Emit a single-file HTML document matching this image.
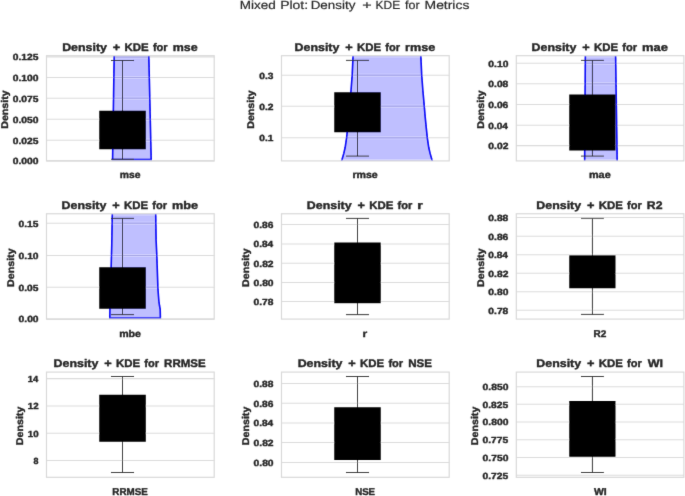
<!DOCTYPE html>
<html><head><meta charset="utf-8"><title>Mixed Plot: Density + KDE for Metrics</title>
<style>
html,body{margin:0;padding:0;background:#fff;}
body{width:685px;height:496px;overflow:hidden;font-family:"Liberation Sans",sans-serif;}
svg{display:block;}
text{font-family:"Liberation Sans",sans-serif;fill:#262626;text-rendering:geometricPrecision;}
.b{font-weight:bold;stroke:#262626;stroke-width:0.4px;stroke-linejoin:round;}
.s{fill:#2a2a2a;stroke:#2a2a2a;stroke-width:0.2px;}
</style></head><body>
<svg width="685" height="496" viewBox="0 0 685 496">
<defs><filter id="n" x="0" y="0" width="685" height="496" filterUnits="userSpaceOnUse"><feConvolveMatrix order="3" kernelMatrix="0.00813 0.07390 0.00813 0.07390 0.67186 0.07390 0.00813 0.07390 0.00813" edgeMode="none" preserveAlpha="false"/></filter></defs>
<rect x="0" y="0" width="685" height="496" fill="#ffffff"/>
<g filter="url(#n)">
<text x="239.69" y="9.00" font-size="11.7" class="s" textLength="35.98" lengthAdjust="spacingAndGlyphs" transform="rotate(0.02 239.69 9.00)">Mixed</text>
<text x="280.15" y="9.00" font-size="11.7" class="s" textLength="27.97" lengthAdjust="spacingAndGlyphs" transform="rotate(0.02 280.15 9.00)">Plot:</text>
<text x="310.70" y="9.00" font-size="11.7" class="s" textLength="44.73" lengthAdjust="spacingAndGlyphs" transform="rotate(0.02 310.70 9.00)">Density</text>
<text x="362.22" y="9.00" font-size="11.7" class="s" textLength="9.38" lengthAdjust="spacingAndGlyphs" transform="rotate(0.02 362.22 9.00)">+</text>
<text x="375.62" y="9.00" font-size="11.7" class="s" textLength="24.60" lengthAdjust="spacingAndGlyphs" transform="rotate(0.02 375.62 9.00)">KDE</text>
<text x="405.02" y="9.00" font-size="11.7" class="s" textLength="14.53" lengthAdjust="spacingAndGlyphs" transform="rotate(0.02 405.02 9.00)">for</text>
<text x="424.56" y="9.00" font-size="11.7" class="s" textLength="44.84" lengthAdjust="spacingAndGlyphs" transform="rotate(0.02 424.56 9.00)">Metrics</text>
<g id="ax0">
<clipPath id="cp0"><rect x="46.5" y="55.7" width="167.70" height="105.20"/></clipPath>
<line x1="46.5" x2="214.2" y1="56.9" y2="56.9" stroke="#dcdcdc" stroke-width="1.1"/>
<line x1="46.5" x2="214.2" y1="77.5" y2="77.5" stroke="#dcdcdc" stroke-width="1.1"/>
<line x1="46.5" x2="214.2" y1="98.25" y2="98.25" stroke="#dcdcdc" stroke-width="1.1"/>
<line x1="46.5" x2="214.2" y1="119.25" y2="119.25" stroke="#dcdcdc" stroke-width="1.1"/>
<line x1="46.5" x2="214.2" y1="140.25" y2="140.25" stroke="#dcdcdc" stroke-width="1.1"/>
<line x1="46.5" x2="214.2" y1="160.9" y2="160.9" stroke="#dcdcdc" stroke-width="1.1"/>
<g clip-path="url(#cp0)"><path d="M114.2,55 L112.6,159.6 L151.2,159.6 L148.8,55 Z" fill="#0000ff" fill-opacity="0.25" stroke="none"/><path d="M114.2,55 L112.6,159.6 L151.2,159.6 L148.8,55" fill="none" stroke="#0808f8" stroke-width="1.6"/></g>
<path d="M122.5,60.5 V159.3 M111.0,60.5 H134.0 M111.0,159.3 H134.0" stroke="#2b2b2b" stroke-width="0.9" fill="none"/>
<rect x="99.25" y="110.75" width="46.55" height="38.50" fill="#000"/>
<rect x="46.5" y="55.7" width="167.70" height="105.20" fill="none" stroke="#d9d9d9" stroke-width="1.2"/>
<text x="12.79" y="60.00" font-size="8.9" class="b" textLength="25.65" lengthAdjust="spacingAndGlyphs" transform="rotate(0.02 12.79 60.00)">0.125</text>
<text x="12.79" y="81.00" font-size="8.9" class="b" textLength="25.79" lengthAdjust="spacingAndGlyphs" transform="rotate(0.02 12.79 81.00)">0.100</text>
<text x="12.79" y="102.00" font-size="8.9" class="b" textLength="25.65" lengthAdjust="spacingAndGlyphs" transform="rotate(0.02 12.79 102.00)">0.075</text>
<text x="12.79" y="123.00" font-size="8.9" class="b" textLength="25.79" lengthAdjust="spacingAndGlyphs" transform="rotate(0.02 12.79 123.00)">0.050</text>
<text x="12.79" y="144.00" font-size="8.9" class="b" textLength="25.65" lengthAdjust="spacingAndGlyphs" transform="rotate(0.02 12.79 144.00)">0.025</text>
<text x="12.79" y="164.00" font-size="8.9" class="b" textLength="25.79" lengthAdjust="spacingAndGlyphs" transform="rotate(0.02 12.79 164.00)">0.000</text>
<text x="-0.51" y="0" font-size="9.8" class="b" textLength="38.47" lengthAdjust="spacingAndGlyphs" transform="translate(8.00,128.25) rotate(-89.98)">Density</text>
<text x="62.17" y="51.00" font-size="11.0" class="b" textLength="44.80" lengthAdjust="spacingAndGlyphs" transform="rotate(0.02 62.17 51.00)">Density</text>
<text x="112.76" y="51.00" font-size="11.0" class="b" textLength="7.45" lengthAdjust="spacingAndGlyphs" transform="rotate(0.02 112.76 51.00)">+</text>
<text x="124.54" y="51.00" font-size="11.0" class="b" textLength="24.11" lengthAdjust="spacingAndGlyphs" transform="rotate(0.02 124.54 51.00)">KDE</text>
<text x="152.91" y="51.00" font-size="11.0" class="b" textLength="14.76" lengthAdjust="spacingAndGlyphs" transform="rotate(0.02 152.91 51.00)">for</text>
<text x="172.68" y="51.00" font-size="11.0" class="b" textLength="24.95" lengthAdjust="spacingAndGlyphs" transform="rotate(0.02 172.68 51.00)">mse</text>
<text x="119.72" y="178.00" font-size="9.8" class="b" textLength="20.74" lengthAdjust="spacingAndGlyphs" transform="rotate(0.02 119.72 178.00)">mse</text>
</g>
<g id="ax1">
<clipPath id="cp1"><rect x="281.5" y="55.7" width="167.70" height="105.20"/></clipPath>
<line x1="281.5" x2="449.2" y1="75.25" y2="75.25" stroke="#dcdcdc" stroke-width="1.1"/>
<line x1="281.5" x2="449.2" y1="106.25" y2="106.25" stroke="#dcdcdc" stroke-width="1.1"/>
<line x1="281.5" x2="449.2" y1="137.75" y2="137.75" stroke="#dcdcdc" stroke-width="1.1"/>
<g clip-path="url(#cp1)"><path d="M353.1,55 L352.2,75 L351.0,90.7 L349.6,106.4 L348.7,117.1 L347.5,129.2 L346.6,137.65 L345.2,147.3 L343.8,153.4 L341.9,160 L341.2,162 L432.7,162 L432.0,160 L430.1,153.4 L428.7,147.3 L427.3,137.65 L426.4,129.2 L425.2,117.1 L424.3,106.4 L422.9,90.7 L421.7,75 L420.8,55 Z" fill="#0000ff" fill-opacity="0.25" stroke="none"/><path d="M353.1,55 L352.2,75 L351.0,90.7 L349.6,106.4 L348.7,117.1 L347.5,129.2 L346.6,137.65 L345.2,147.3 L343.8,153.4 L341.9,160 L341.2,162 M420.8,55 L421.7,75 L422.9,90.7 L424.3,106.4 L425.2,117.1 L426.4,129.2 L427.3,137.65 L428.7,147.3 L430.1,153.4 L432.0,160 L432.7,162" fill="none" stroke="#0808f8" stroke-width="1.6"/></g>
<path d="M357.5,60.4 V156.1 M346.0,60.4 H369.0 M346.0,156.1 H369.0" stroke="#2b2b2b" stroke-width="0.9" fill="none"/>
<rect x="334.25" y="92.25" width="46.50" height="40.00" fill="#000"/>
<rect x="281.5" y="55.7" width="167.70" height="105.20" fill="none" stroke="#d9d9d9" stroke-width="1.2"/>
<text x="259.39" y="79.00" font-size="8.9" class="b" textLength="14.13" lengthAdjust="spacingAndGlyphs" transform="rotate(0.02 259.39 79.00)">0.3</text>
<text x="259.39" y="110.00" font-size="8.9" class="b" textLength="14.17" lengthAdjust="spacingAndGlyphs" transform="rotate(0.02 259.39 110.00)">0.2</text>
<text x="259.39" y="141.00" font-size="8.9" class="b" textLength="14.04" lengthAdjust="spacingAndGlyphs" transform="rotate(0.02 259.39 141.00)">0.1</text>
<text x="-0.51" y="0" font-size="9.8" class="b" textLength="38.47" lengthAdjust="spacingAndGlyphs" transform="translate(254.00,128.25) rotate(-89.98)">Density</text>
<text x="294.62" y="51.00" font-size="11.0" class="b" textLength="44.80" lengthAdjust="spacingAndGlyphs" transform="rotate(0.02 294.62 51.00)">Density</text>
<text x="345.21" y="51.00" font-size="11.0" class="b" textLength="7.45" lengthAdjust="spacingAndGlyphs" transform="rotate(0.02 345.21 51.00)">+</text>
<text x="356.99" y="51.00" font-size="11.0" class="b" textLength="24.11" lengthAdjust="spacingAndGlyphs" transform="rotate(0.02 356.99 51.00)">KDE</text>
<text x="385.36" y="51.00" font-size="11.0" class="b" textLength="14.76" lengthAdjust="spacingAndGlyphs" transform="rotate(0.02 385.36 51.00)">for</text>
<text x="405.12" y="51.00" font-size="11.0" class="b" textLength="30.16" lengthAdjust="spacingAndGlyphs" transform="rotate(0.02 405.12 51.00)">rmse</text>
<text x="352.40" y="178.00" font-size="9.8" class="b" textLength="25.36" lengthAdjust="spacingAndGlyphs" transform="rotate(0.02 352.40 178.00)">rmse</text>
</g>
<g id="ax2">
<clipPath id="cp2"><rect x="516.3" y="55.7" width="167.60" height="105.20"/></clipPath>
<line x1="516.3" x2="683.9" y1="63.25" y2="63.25" stroke="#dcdcdc" stroke-width="1.1"/>
<line x1="516.3" x2="683.9" y1="83.75" y2="83.75" stroke="#dcdcdc" stroke-width="1.1"/>
<line x1="516.3" x2="683.9" y1="104.5" y2="104.5" stroke="#dcdcdc" stroke-width="1.1"/>
<line x1="516.3" x2="683.9" y1="125.25" y2="125.25" stroke="#dcdcdc" stroke-width="1.1"/>
<line x1="516.3" x2="683.9" y1="145.6" y2="145.6" stroke="#dcdcdc" stroke-width="1.1"/>
<g clip-path="url(#cp2)"><path d="M585.35,55 L584.65,162 L617.2,162 L615.6,55 Z" fill="#0000ff" fill-opacity="0.25" stroke="none"/><path d="M585.35,55 L584.65,162 M617.2,162 L615.6,55" fill="none" stroke="#0808f8" stroke-width="1.6"/></g>
<path d="M592.45,60.4 V156.1 M581.0,60.4 H603.9 M581.0,156.1 H603.9" stroke="#2b2b2b" stroke-width="0.9" fill="none"/>
<rect x="569.25" y="94.5" width="46.25" height="56.00" fill="#000"/>
<rect x="516.3" y="55.7" width="167.60" height="105.20" fill="none" stroke="#d9d9d9" stroke-width="1.2"/>
<text x="488.39" y="67.00" font-size="8.9" class="b" textLength="19.99" lengthAdjust="spacingAndGlyphs" transform="rotate(0.02 488.39 67.00)">0.10</text>
<text x="488.39" y="87.00" font-size="8.9" class="b" textLength="19.88" lengthAdjust="spacingAndGlyphs" transform="rotate(0.02 488.39 87.00)">0.08</text>
<text x="488.39" y="108.00" font-size="8.9" class="b" textLength="19.93" lengthAdjust="spacingAndGlyphs" transform="rotate(0.02 488.39 108.00)">0.06</text>
<text x="488.39" y="129.00" font-size="8.9" class="b" textLength="19.61" lengthAdjust="spacingAndGlyphs" transform="rotate(0.02 488.39 129.00)">0.04</text>
<text x="488.39" y="149.00" font-size="8.9" class="b" textLength="19.98" lengthAdjust="spacingAndGlyphs" transform="rotate(0.02 488.39 149.00)">0.02</text>
<text x="-0.51" y="0" font-size="9.8" class="b" textLength="38.47" lengthAdjust="spacingAndGlyphs" transform="translate(484.00,128.25) rotate(-89.98)">Density</text>
<text x="531.57" y="51.00" font-size="11.0" class="b" textLength="44.80" lengthAdjust="spacingAndGlyphs" transform="rotate(0.02 531.57 51.00)">Density</text>
<text x="582.16" y="51.00" font-size="11.0" class="b" textLength="7.45" lengthAdjust="spacingAndGlyphs" transform="rotate(0.02 582.16 51.00)">+</text>
<text x="593.94" y="51.00" font-size="11.0" class="b" textLength="24.11" lengthAdjust="spacingAndGlyphs" transform="rotate(0.02 593.94 51.00)">KDE</text>
<text x="622.31" y="51.00" font-size="11.0" class="b" textLength="14.76" lengthAdjust="spacingAndGlyphs" transform="rotate(0.02 622.31 51.00)">for</text>
<text x="642.05" y="51.00" font-size="11.0" class="b" textLength="25.90" lengthAdjust="spacingAndGlyphs" transform="rotate(0.02 642.05 51.00)">mae</text>
<text x="588.99" y="178.00" font-size="9.8" class="b" textLength="21.68" lengthAdjust="spacingAndGlyphs" transform="rotate(0.02 588.99 178.00)">mae</text>
</g>
<g id="ax3">
<clipPath id="cp3"><rect x="46.5" y="213.75" width="167.70" height="105.35"/></clipPath>
<line x1="46.5" x2="214.2" y1="223.25" y2="223.25" stroke="#dcdcdc" stroke-width="1.1"/>
<line x1="46.5" x2="214.2" y1="255.5" y2="255.5" stroke="#dcdcdc" stroke-width="1.1"/>
<line x1="46.5" x2="214.2" y1="287.25" y2="287.25" stroke="#dcdcdc" stroke-width="1.1"/>
<line x1="46.5" x2="214.2" y1="319.1" y2="319.1" stroke="#dcdcdc" stroke-width="1.1"/>
<g clip-path="url(#cp3)"><path d="M112.3,213 L111.75,245 L110.8,280 L109.9,309 L109.8,318 L160.4,318 L160.2,309.4 L159.5,305.5 L158.9,301.3 L158.4,295 L157.9,287.6 L157.3,270 L156.8,255.3 L156.1,240 L155.7,213 Z" fill="#0000ff" fill-opacity="0.25" stroke="none"/><path d="M112.3,213 L111.75,245 L110.8,280 L109.9,309 L109.8,318 L160.4,318 L160.2,309.4 L159.5,305.5 L158.9,301.3 L158.4,295 L157.9,287.6 L157.3,270 L156.8,255.3 L156.1,240 L155.7,213" fill="none" stroke="#0808f8" stroke-width="1.6"/></g>
<path d="M122.5,218.4 V314.6 M111.0,218.4 H134.0 M111.0,314.6 H134.0" stroke="#2b2b2b" stroke-width="0.9" fill="none"/>
<rect x="99.25" y="267.25" width="46.55" height="41.50" fill="#000"/>
<rect x="46.5" y="213.75" width="167.70" height="105.35" fill="none" stroke="#d9d9d9" stroke-width="1.2"/>
<text x="18.59" y="227.00" font-size="8.9" class="b" textLength="19.85" lengthAdjust="spacingAndGlyphs" transform="rotate(0.02 18.59 227.00)">0.15</text>
<text x="18.59" y="259.00" font-size="8.9" class="b" textLength="19.99" lengthAdjust="spacingAndGlyphs" transform="rotate(0.02 18.59 259.00)">0.10</text>
<text x="18.59" y="291.00" font-size="8.9" class="b" textLength="19.85" lengthAdjust="spacingAndGlyphs" transform="rotate(0.02 18.59 291.00)">0.05</text>
<text x="18.59" y="322.00" font-size="8.9" class="b" textLength="19.99" lengthAdjust="spacingAndGlyphs" transform="rotate(0.02 18.59 322.00)">0.00</text>
<text x="-0.51" y="0" font-size="9.8" class="b" textLength="38.47" lengthAdjust="spacingAndGlyphs" transform="translate(14.00,286.38) rotate(-89.98)">Density</text>
<text x="61.57" y="209.00" font-size="11.0" class="b" textLength="44.80" lengthAdjust="spacingAndGlyphs" transform="rotate(0.02 61.57 209.00)">Density</text>
<text x="112.16" y="209.00" font-size="11.0" class="b" textLength="7.45" lengthAdjust="spacingAndGlyphs" transform="rotate(0.02 112.16 209.00)">+</text>
<text x="123.94" y="209.00" font-size="11.0" class="b" textLength="24.11" lengthAdjust="spacingAndGlyphs" transform="rotate(0.02 123.94 209.00)">KDE</text>
<text x="152.31" y="209.00" font-size="11.0" class="b" textLength="14.76" lengthAdjust="spacingAndGlyphs" transform="rotate(0.02 152.31 209.00)">for</text>
<text x="172.06" y="209.00" font-size="11.0" class="b" textLength="26.07" lengthAdjust="spacingAndGlyphs" transform="rotate(0.02 172.06 209.00)">mbe</text>
<text x="119.15" y="337.00" font-size="9.8" class="b" textLength="21.86" lengthAdjust="spacingAndGlyphs" transform="rotate(0.02 119.15 337.00)">mbe</text>
</g>
<g id="ax4">
<clipPath id="cp4"><rect x="281.5" y="213.75" width="167.70" height="105.35"/></clipPath>
<line x1="281.5" x2="449.2" y1="224.5" y2="224.5" stroke="#dcdcdc" stroke-width="1.1"/>
<line x1="281.5" x2="449.2" y1="244" y2="244" stroke="#dcdcdc" stroke-width="1.1"/>
<line x1="281.5" x2="449.2" y1="263.25" y2="263.25" stroke="#dcdcdc" stroke-width="1.1"/>
<line x1="281.5" x2="449.2" y1="282.5" y2="282.5" stroke="#dcdcdc" stroke-width="1.1"/>
<line x1="281.5" x2="449.2" y1="301.5" y2="301.5" stroke="#dcdcdc" stroke-width="1.1"/>
<path d="M357.5,218.4 V314.6 M346.0,218.4 H369.0 M346.0,314.6 H369.0" stroke="#2b2b2b" stroke-width="0.9" fill="none"/>
<rect x="334.25" y="242.5" width="46.50" height="60.70" fill="#000"/>
<rect x="281.5" y="213.75" width="167.70" height="105.35" fill="none" stroke="#d9d9d9" stroke-width="1.2"/>
<text x="253.59" y="228.00" font-size="8.9" class="b" textLength="19.93" lengthAdjust="spacingAndGlyphs" transform="rotate(0.02 253.59 228.00)">0.86</text>
<text x="253.59" y="247.00" font-size="8.9" class="b" textLength="19.61" lengthAdjust="spacingAndGlyphs" transform="rotate(0.02 253.59 247.00)">0.84</text>
<text x="253.59" y="267.00" font-size="8.9" class="b" textLength="19.98" lengthAdjust="spacingAndGlyphs" transform="rotate(0.02 253.59 267.00)">0.82</text>
<text x="253.59" y="286.00" font-size="8.9" class="b" textLength="19.99" lengthAdjust="spacingAndGlyphs" transform="rotate(0.02 253.59 286.00)">0.80</text>
<text x="253.59" y="305.00" font-size="8.9" class="b" textLength="19.88" lengthAdjust="spacingAndGlyphs" transform="rotate(0.02 253.59 305.00)">0.78</text>
<text x="-0.51" y="0" font-size="9.8" class="b" textLength="38.47" lengthAdjust="spacingAndGlyphs" transform="translate(249.00,286.38) rotate(-89.98)">Density</text>
<text x="306.87" y="209.00" font-size="11.0" class="b" textLength="44.80" lengthAdjust="spacingAndGlyphs" transform="rotate(0.02 306.87 209.00)">Density</text>
<text x="357.46" y="209.00" font-size="11.0" class="b" textLength="7.45" lengthAdjust="spacingAndGlyphs" transform="rotate(0.02 357.46 209.00)">+</text>
<text x="369.24" y="209.00" font-size="11.0" class="b" textLength="24.11" lengthAdjust="spacingAndGlyphs" transform="rotate(0.02 369.24 209.00)">KDE</text>
<text x="397.61" y="209.00" font-size="11.0" class="b" textLength="14.76" lengthAdjust="spacingAndGlyphs" transform="rotate(0.02 397.61 209.00)">for</text>
<text x="417.26" y="209.00" font-size="11.0" class="b" textLength="5.56" lengthAdjust="spacingAndGlyphs" transform="rotate(0.02 417.26 209.00)">r</text>
<text x="362.61" y="337.00" font-size="9.8" class="b" textLength="4.67" lengthAdjust="spacingAndGlyphs" transform="rotate(0.02 362.61 337.00)">r</text>
</g>
<g id="ax5">
<clipPath id="cp5"><rect x="516.3" y="213.75" width="167.60" height="105.35"/></clipPath>
<line x1="516.3" x2="683.9" y1="217.5" y2="217.5" stroke="#dcdcdc" stroke-width="1.1"/>
<line x1="516.3" x2="683.9" y1="236.25" y2="236.25" stroke="#dcdcdc" stroke-width="1.1"/>
<line x1="516.3" x2="683.9" y1="254.75" y2="254.75" stroke="#dcdcdc" stroke-width="1.1"/>
<line x1="516.3" x2="683.9" y1="273.25" y2="273.25" stroke="#dcdcdc" stroke-width="1.1"/>
<line x1="516.3" x2="683.9" y1="291.75" y2="291.75" stroke="#dcdcdc" stroke-width="1.1"/>
<line x1="516.3" x2="683.9" y1="310.25" y2="310.25" stroke="#dcdcdc" stroke-width="1.1"/>
<path d="M592.45,218.4 V314.4 M581.0,218.4 H603.9 M581.0,314.4 H603.9" stroke="#2b2b2b" stroke-width="0.9" fill="none"/>
<rect x="569.25" y="255.25" width="46.25" height="33.00" fill="#000"/>
<rect x="516.3" y="213.75" width="167.60" height="105.35" fill="none" stroke="#d9d9d9" stroke-width="1.2"/>
<text x="488.39" y="221.00" font-size="8.9" class="b" textLength="19.88" lengthAdjust="spacingAndGlyphs" transform="rotate(0.02 488.39 221.00)">0.88</text>
<text x="488.39" y="240.00" font-size="8.9" class="b" textLength="19.93" lengthAdjust="spacingAndGlyphs" transform="rotate(0.02 488.39 240.00)">0.86</text>
<text x="488.39" y="258.00" font-size="8.9" class="b" textLength="19.61" lengthAdjust="spacingAndGlyphs" transform="rotate(0.02 488.39 258.00)">0.84</text>
<text x="488.39" y="277.00" font-size="8.9" class="b" textLength="19.98" lengthAdjust="spacingAndGlyphs" transform="rotate(0.02 488.39 277.00)">0.82</text>
<text x="488.39" y="295.00" font-size="8.9" class="b" textLength="19.99" lengthAdjust="spacingAndGlyphs" transform="rotate(0.02 488.39 295.00)">0.80</text>
<text x="488.39" y="314.00" font-size="8.9" class="b" textLength="19.88" lengthAdjust="spacingAndGlyphs" transform="rotate(0.02 488.39 314.00)">0.78</text>
<text x="-0.51" y="0" font-size="9.8" class="b" textLength="38.47" lengthAdjust="spacingAndGlyphs" transform="translate(484.00,286.38) rotate(-89.98)">Density</text>
<text x="536.37" y="209.00" font-size="11.0" class="b" textLength="44.80" lengthAdjust="spacingAndGlyphs" transform="rotate(0.02 536.37 209.00)">Density</text>
<text x="586.96" y="209.00" font-size="11.0" class="b" textLength="7.45" lengthAdjust="spacingAndGlyphs" transform="rotate(0.02 586.96 209.00)">+</text>
<text x="598.74" y="209.00" font-size="11.0" class="b" textLength="24.11" lengthAdjust="spacingAndGlyphs" transform="rotate(0.02 598.74 209.00)">KDE</text>
<text x="627.11" y="209.00" font-size="11.0" class="b" textLength="14.76" lengthAdjust="spacingAndGlyphs" transform="rotate(0.02 627.11 209.00)">for</text>
<text x="646.88" y="209.00" font-size="11.0" class="b" textLength="15.61" lengthAdjust="spacingAndGlyphs" transform="rotate(0.02 646.88 209.00)">R2</text>
<text x="593.48" y="337.00" font-size="9.8" class="b" textLength="12.77" lengthAdjust="spacingAndGlyphs" transform="rotate(0.02 593.48 337.00)">R2</text>
</g>
<g id="ax6">
<clipPath id="cp6"><rect x="46.5" y="372.1" width="167.70" height="105.20"/></clipPath>
<line x1="46.5" x2="214.2" y1="378.6" y2="378.6" stroke="#dcdcdc" stroke-width="1.1"/>
<line x1="46.5" x2="214.2" y1="406" y2="406" stroke="#dcdcdc" stroke-width="1.1"/>
<line x1="46.5" x2="214.2" y1="433.25" y2="433.25" stroke="#dcdcdc" stroke-width="1.1"/>
<line x1="46.5" x2="214.2" y1="460.5" y2="460.5" stroke="#dcdcdc" stroke-width="1.1"/>
<path d="M122.5,376.5 V472.5 M111.0,376.5 H134.0 M111.0,472.5 H134.0" stroke="#2b2b2b" stroke-width="0.9" fill="none"/>
<rect x="99.25" y="394.75" width="46.55" height="47.00" fill="#000"/>
<rect x="46.5" y="372.1" width="167.70" height="105.20" fill="none" stroke="#d9d9d9" stroke-width="1.2"/>
<text x="27.76" y="382.00" font-size="8.9" class="b" textLength="10.44" lengthAdjust="spacingAndGlyphs" transform="rotate(0.02 27.76 382.00)">14</text>
<text x="27.74" y="409.00" font-size="8.9" class="b" textLength="10.80" lengthAdjust="spacingAndGlyphs" transform="rotate(0.02 27.74 409.00)">12</text>
<text x="27.74" y="437.00" font-size="8.9" class="b" textLength="10.81" lengthAdjust="spacingAndGlyphs" transform="rotate(0.02 27.74 437.00)">10</text>
<text x="33.47" y="464.00" font-size="8.9" class="b" textLength="4.95" lengthAdjust="spacingAndGlyphs" transform="rotate(0.02 33.47 464.00)">8</text>
<text x="-0.51" y="0" font-size="9.8" class="b" textLength="38.47" lengthAdjust="spacingAndGlyphs" transform="translate(23.00,444.65) rotate(-89.98)">Density</text>
<text x="53.57" y="367.00" font-size="11.0" class="b" textLength="44.80" lengthAdjust="spacingAndGlyphs" transform="rotate(0.02 53.57 367.00)">Density</text>
<text x="104.16" y="367.00" font-size="11.0" class="b" textLength="7.45" lengthAdjust="spacingAndGlyphs" transform="rotate(0.02 104.16 367.00)">+</text>
<text x="115.94" y="367.00" font-size="11.0" class="b" textLength="24.11" lengthAdjust="spacingAndGlyphs" transform="rotate(0.02 115.94 367.00)">KDE</text>
<text x="144.31" y="367.00" font-size="11.0" class="b" textLength="14.76" lengthAdjust="spacingAndGlyphs" transform="rotate(0.02 144.31 367.00)">for</text>
<text x="164.13" y="367.00" font-size="11.0" class="b" textLength="41.62" lengthAdjust="spacingAndGlyphs" transform="rotate(0.02 164.13 367.00)">RRMSE</text>
<text x="112.39" y="495.00" font-size="9.8" class="b" textLength="35.44" lengthAdjust="spacingAndGlyphs" transform="rotate(0.02 112.39 495.00)">RRMSE</text>
</g>
<g id="ax7">
<clipPath id="cp7"><rect x="281.5" y="372.1" width="167.70" height="105.20"/></clipPath>
<line x1="281.5" x2="449.2" y1="383.5" y2="383.5" stroke="#dcdcdc" stroke-width="1.1"/>
<line x1="281.5" x2="449.2" y1="403.25" y2="403.25" stroke="#dcdcdc" stroke-width="1.1"/>
<line x1="281.5" x2="449.2" y1="423" y2="423" stroke="#dcdcdc" stroke-width="1.1"/>
<line x1="281.5" x2="449.2" y1="442.5" y2="442.5" stroke="#dcdcdc" stroke-width="1.1"/>
<line x1="281.5" x2="449.2" y1="462.5" y2="462.5" stroke="#dcdcdc" stroke-width="1.1"/>
<path d="M357.5,376.5 V472.5 M346.0,376.5 H369.0 M346.0,472.5 H369.0" stroke="#2b2b2b" stroke-width="0.9" fill="none"/>
<rect x="334.25" y="407.25" width="46.50" height="52.75" fill="#000"/>
<rect x="281.5" y="372.1" width="167.70" height="105.20" fill="none" stroke="#d9d9d9" stroke-width="1.2"/>
<text x="253.59" y="387.00" font-size="8.9" class="b" textLength="19.88" lengthAdjust="spacingAndGlyphs" transform="rotate(0.02 253.59 387.00)">0.88</text>
<text x="253.59" y="407.00" font-size="8.9" class="b" textLength="19.93" lengthAdjust="spacingAndGlyphs" transform="rotate(0.02 253.59 407.00)">0.86</text>
<text x="253.59" y="426.00" font-size="8.9" class="b" textLength="19.61" lengthAdjust="spacingAndGlyphs" transform="rotate(0.02 253.59 426.00)">0.84</text>
<text x="253.59" y="446.00" font-size="8.9" class="b" textLength="19.98" lengthAdjust="spacingAndGlyphs" transform="rotate(0.02 253.59 446.00)">0.82</text>
<text x="253.59" y="466.00" font-size="8.9" class="b" textLength="19.99" lengthAdjust="spacingAndGlyphs" transform="rotate(0.02 253.59 466.00)">0.80</text>
<text x="-0.51" y="0" font-size="9.8" class="b" textLength="38.47" lengthAdjust="spacingAndGlyphs" transform="translate(249.00,444.65) rotate(-89.98)">Density</text>
<text x="297.67" y="367.00" font-size="11.0" class="b" textLength="44.80" lengthAdjust="spacingAndGlyphs" transform="rotate(0.02 297.67 367.00)">Density</text>
<text x="348.26" y="367.00" font-size="11.0" class="b" textLength="7.45" lengthAdjust="spacingAndGlyphs" transform="rotate(0.02 348.26 367.00)">+</text>
<text x="360.04" y="367.00" font-size="11.0" class="b" textLength="24.11" lengthAdjust="spacingAndGlyphs" transform="rotate(0.02 360.04 367.00)">KDE</text>
<text x="388.41" y="367.00" font-size="11.0" class="b" textLength="14.76" lengthAdjust="spacingAndGlyphs" transform="rotate(0.02 388.41 367.00)">for</text>
<text x="408.22" y="367.00" font-size="11.0" class="b" textLength="23.83" lengthAdjust="spacingAndGlyphs" transform="rotate(0.02 408.22 367.00)">NSE</text>
<text x="355.15" y="495.00" font-size="9.8" class="b" textLength="19.93" lengthAdjust="spacingAndGlyphs" transform="rotate(0.02 355.15 495.00)">NSE</text>
</g>
<g id="ax8">
<clipPath id="cp8"><rect x="516.3" y="372.1" width="167.60" height="105.20"/></clipPath>
<line x1="516.3" x2="683.9" y1="386.75" y2="386.75" stroke="#dcdcdc" stroke-width="1.1"/>
<line x1="516.3" x2="683.9" y1="404.25" y2="404.25" stroke="#dcdcdc" stroke-width="1.1"/>
<line x1="516.3" x2="683.9" y1="422" y2="422" stroke="#dcdcdc" stroke-width="1.1"/>
<line x1="516.3" x2="683.9" y1="439.75" y2="439.75" stroke="#dcdcdc" stroke-width="1.1"/>
<line x1="516.3" x2="683.9" y1="457.5" y2="457.5" stroke="#dcdcdc" stroke-width="1.1"/>
<line x1="516.3" x2="683.9" y1="475.25" y2="475.25" stroke="#dcdcdc" stroke-width="1.1"/>
<path d="M592.45,376.5 V472.5 M581.0,376.5 H603.9 M581.0,472.5 H603.9" stroke="#2b2b2b" stroke-width="0.9" fill="none"/>
<rect x="569.25" y="401" width="46.25" height="56.00" fill="#000"/>
<rect x="516.3" y="372.1" width="167.60" height="105.20" fill="none" stroke="#d9d9d9" stroke-width="1.2"/>
<text x="482.59" y="390.00" font-size="8.9" class="b" textLength="25.79" lengthAdjust="spacingAndGlyphs" transform="rotate(0.02 482.59 390.00)">0.850</text>
<text x="482.59" y="408.00" font-size="8.9" class="b" textLength="25.65" lengthAdjust="spacingAndGlyphs" transform="rotate(0.02 482.59 408.00)">0.825</text>
<text x="482.59" y="425.00" font-size="8.9" class="b" textLength="25.79" lengthAdjust="spacingAndGlyphs" transform="rotate(0.02 482.59 425.00)">0.800</text>
<text x="482.59" y="443.00" font-size="8.9" class="b" textLength="25.65" lengthAdjust="spacingAndGlyphs" transform="rotate(0.02 482.59 443.00)">0.775</text>
<text x="482.59" y="461.00" font-size="8.9" class="b" textLength="25.79" lengthAdjust="spacingAndGlyphs" transform="rotate(0.02 482.59 461.00)">0.750</text>
<text x="482.59" y="479.00" font-size="8.9" class="b" textLength="25.65" lengthAdjust="spacingAndGlyphs" transform="rotate(0.02 482.59 479.00)">0.725</text>
<text x="-0.51" y="0" font-size="9.8" class="b" textLength="38.47" lengthAdjust="spacingAndGlyphs" transform="translate(478.00,444.65) rotate(-89.98)">Density</text>
<text x="536.37" y="367.00" font-size="11.0" class="b" textLength="44.80" lengthAdjust="spacingAndGlyphs" transform="rotate(0.02 536.37 367.00)">Density</text>
<text x="586.96" y="367.00" font-size="11.0" class="b" textLength="7.45" lengthAdjust="spacingAndGlyphs" transform="rotate(0.02 586.96 367.00)">+</text>
<text x="598.74" y="367.00" font-size="11.0" class="b" textLength="24.11" lengthAdjust="spacingAndGlyphs" transform="rotate(0.02 598.74 367.00)">KDE</text>
<text x="627.11" y="367.00" font-size="11.0" class="b" textLength="14.76" lengthAdjust="spacingAndGlyphs" transform="rotate(0.02 627.11 367.00)">for</text>
<text x="647.69" y="367.00" font-size="11.0" class="b" textLength="15.35" lengthAdjust="spacingAndGlyphs" transform="rotate(0.02 647.69 367.00)">WI</text>
<text x="593.99" y="495.00" font-size="9.8" class="b" textLength="12.71" lengthAdjust="spacingAndGlyphs" transform="rotate(0.02 593.99 495.00)">WI</text>
</g>
</g></svg></body></html>
